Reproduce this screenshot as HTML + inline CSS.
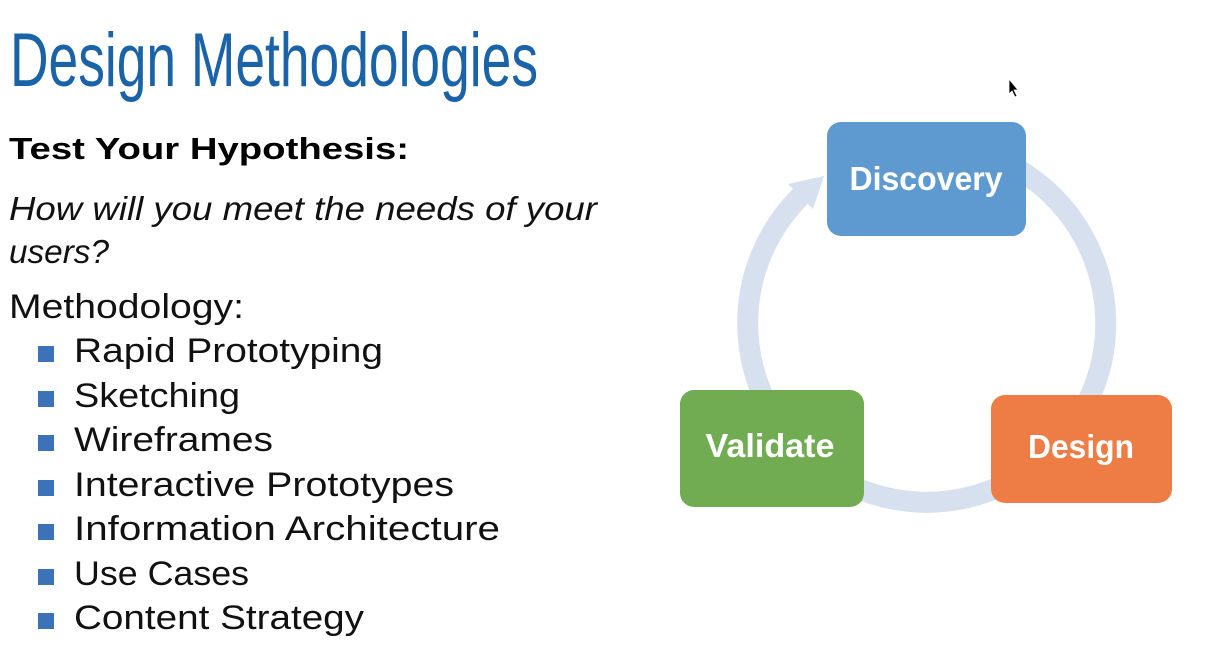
<!DOCTYPE html>
<html><head><meta charset="utf-8"><style>
html,body{margin:0;padding:0;background:#fff;width:1231px;height:668px;overflow:hidden}
</style></head><body>
<svg width="1231" height="668" viewBox="0 0 1231 668" xmlns="http://www.w3.org/2000/svg">
<rect width="1231" height="668" fill="#fff"/>
<text x="10" y="86" font-family="Liberation Sans Narrow, Liberation Sans, sans-serif" font-size="76" fill="#1a63a8" textLength="528" lengthAdjust="spacingAndGlyphs">Design Methodologies</text>
<text x="9" y="159" font-family="Liberation Sans, sans-serif" font-size="31" font-weight="bold" fill="#000" textLength="400" lengthAdjust="spacingAndGlyphs">Test Your Hypothesis:</text>
<text x="9" y="220" font-family="Liberation Sans, sans-serif" font-size="33" font-style="italic" fill="#111" textLength="588" lengthAdjust="spacingAndGlyphs">How will you meet the needs of your</text>
<text x="9" y="263" font-family="Liberation Sans, sans-serif" font-size="33" font-style="italic" fill="#111" textLength="100" lengthAdjust="spacingAndGlyphs">users?</text>
<text x="9" y="318" font-family="Liberation Sans, sans-serif" font-size="34" fill="#111" textLength="235" lengthAdjust="spacingAndGlyphs">Methodology:</text>
<g font-family="Liberation Sans, sans-serif" font-size="34" fill="#111">
<rect x="38" y="346" width="16" height="16" fill="#3b72b8"/><text x="74" y="362" textLength="309" lengthAdjust="spacingAndGlyphs">Rapid Prototyping</text>
<rect x="38" y="391" width="16" height="16" fill="#3b72b8"/><text x="74" y="407" textLength="166" lengthAdjust="spacingAndGlyphs">Sketching</text>
<rect x="38" y="435" width="16" height="16" fill="#3b72b8"/><text x="74" y="451" textLength="199" lengthAdjust="spacingAndGlyphs">Wireframes</text>
<rect x="38" y="480" width="16" height="16" fill="#3b72b8"/><text x="74" y="496" textLength="380" lengthAdjust="spacingAndGlyphs">Interactive Prototypes</text>
<rect x="38" y="524" width="16" height="16" fill="#3b72b8"/><text x="74" y="540" textLength="426" lengthAdjust="spacingAndGlyphs">Information Architecture</text>
<rect x="38" y="569" width="16" height="16" fill="#3b72b8"/><text x="74" y="585" textLength="175" lengthAdjust="spacingAndGlyphs">Use Cases</text>
<rect x="38" y="613" width="16" height="16" fill="#3b72b8"/><text x="74" y="629" textLength="290" lengthAdjust="spacingAndGlyphs">Content Strategy</text>
</g>
<path d="M958 147 A179 179 0 1 1 805 192" fill="none" stroke="#d7e0ef" stroke-width="21"/>
<polygon points="788,184 813,209 824,176" fill="#d7e0ef"/>
<rect x="827" y="122" width="199" height="114" rx="14" fill="#5e9ad0"/>
<rect x="680" y="390" width="184" height="117" rx="14" fill="#72ac52"/>
<rect x="991" y="395" width="181" height="108" rx="14" fill="#ed7d45"/>
<g font-family="Liberation Sans, sans-serif" font-size="33" font-weight="bold" fill="#fff" text-anchor="middle">
<text x="926" y="190" textLength="153" lengthAdjust="spacingAndGlyphs">Discovery</text>
<text x="770" y="457" textLength="129" lengthAdjust="spacingAndGlyphs">Validate</text>
<text x="1081" y="458" textLength="106" lengthAdjust="spacingAndGlyphs">Design</text>
</g>
<polygon points="1009,79 1009,94 1012,91 1015,97 1017,96 1014,90 1018,90" fill="#000" stroke="#fff" stroke-width="0.8"/>
</svg>
</body></html>
